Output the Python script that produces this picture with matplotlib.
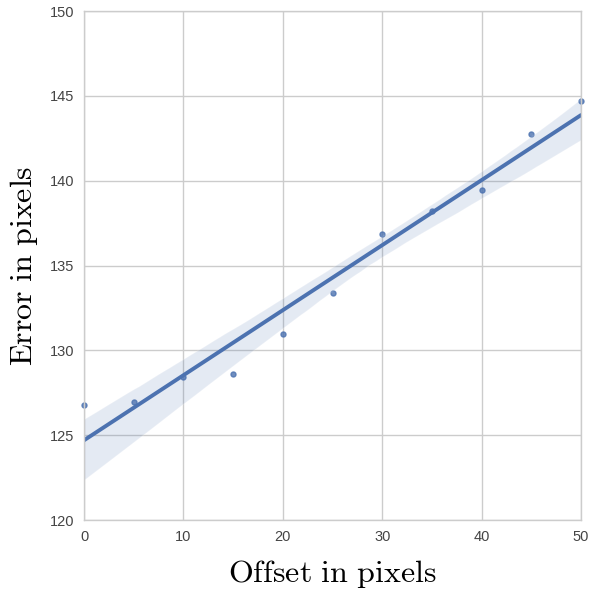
import numpy as np
import matplotlib
matplotlib.use("Agg")
import matplotlib.pyplot as plt
import seaborn as sns

# ----- datos -----
offset = [0, 5, 10, 15, 20, 25, 30, 35, 40, 45, 50]
error = [126.78, 126.97, 128.41, 128.61, 130.98, 133.40,
         136.86, 138.21, 139.45, 142.73, 144.70]

BLUE = "#4C72B0"

sns.set_style("whitegrid", {"grid.color": ".8", "axes.edgecolor": ".8"})
plt.rcParams.update({
    "font.family": ["Liberation Sans", "DejaVu Sans"],
    "mathtext.fontset": "cm",
    "axes.linewidth": 1.0,
    "grid.linewidth": 1.0,
})

fig = plt.figure(figsize=(5.89, 5.94), dpi=100)
ax = fig.add_axes([84 / 589, 1 - 520 / 594, 497 / 589, 509 / 594])

sns.regplot(x=np.array(offset), y=np.array(error), ax=ax, color=BLUE,
            scatter_kws={"s": 13, "clip_on": False},
            line_kws={"lw": 2.8}, seed=0)

ax.set_xlim(0, 50)
ax.set_ylim(120, 150)
ax.set_xticks(range(0, 51, 10))
ax.set_yticks(range(120, 151, 5))
ax.tick_params(labelsize=10.5, colors="#444", length=0, pad=7)
ax.set_xlabel(r"$\mathrm{Offset\ in\ pixels}$", fontsize=23, labelpad=10, color="k")
ax.set_ylabel(r"$\mathrm{Error\ in\ pixels}$", fontsize=23, labelpad=7, color="k")

fig.savefig("out.png", dpi=100)
